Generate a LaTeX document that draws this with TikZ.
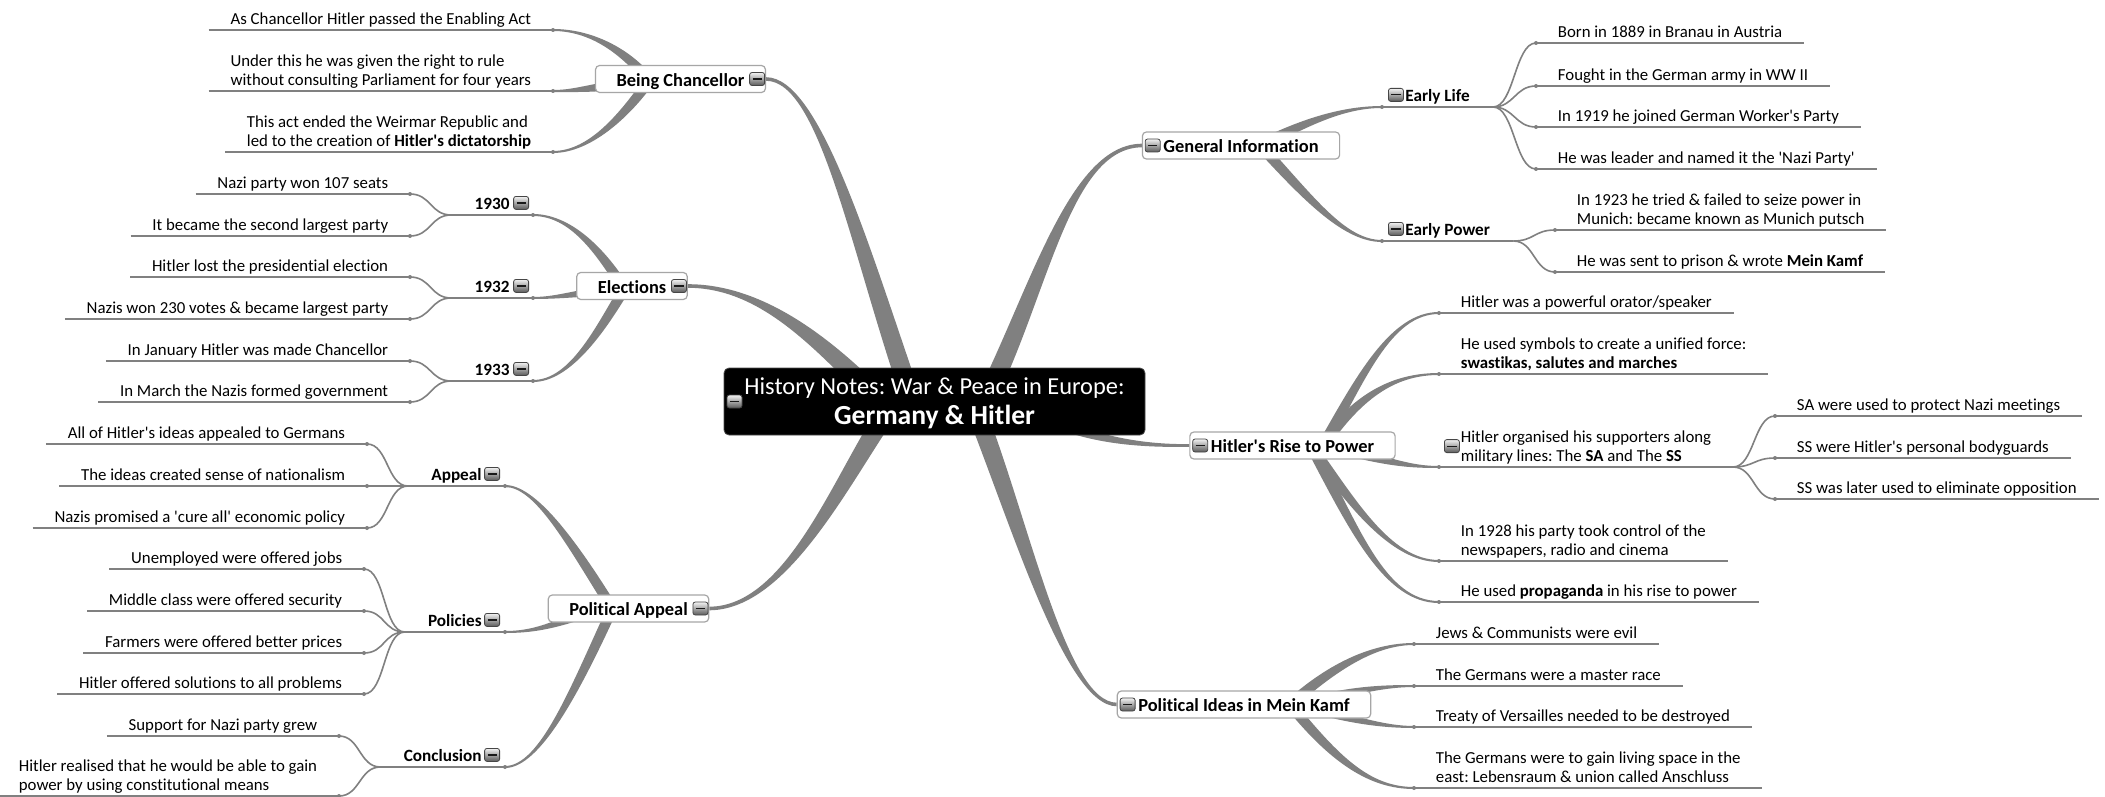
\documentclass[tikz,border=0pt]{standalone}
\usepackage{fontspec}
\setmainfont{Carlito}[Ligatures=CommonOff]
\usetikzlibrary{calc,positioning,backgrounds}
\definecolor{branchgray}{RGB}{128,128,128}
\frenchspacing
\newcommand\leaffont{\fontsize{8.4pt}{9.5pt}\selectfont}
\newcommand\subfont{\fontsize{8.6pt}{10pt}\selectfont\bfseries}
\newcommand\topicfont{\fontsize{9.2pt}{11pt}\selectfont\bfseries}
\newcommand\apo{\textquotesingle}
\newcommand\branch[6]{%
  \path (#1) coordinate (br0) (#2) coordinate (br1) (#3) coordinate (br2) (#4) coordinate (br3);
  \fill[branchgray] ($(br0)!#5!90:(br1)$) .. controls ($(br1)!#5!-90:(br0)$) and ($(br2)!#6!90:(br3)$) .. ($(br3)!#6!-90:(br2)$)
    -- ($(br3)!#6!90:(br2)$) .. controls ($(br2)!#6!-90:(br3)$) and ($(br1)!#5!90:(br0)$) .. ($(br0)!#5!-90:(br1)$) -- cycle;}
\begin{document}
\begin{tikzpicture}[x=0.5pt,y=-0.5pt]
        \tikzstyle{every node}=[font=\leaffont]
        \tikzstyle{hub}=[draw=gray!60!black, fill=black, text=white, rounded corners=2.5pt, minimum width=210.5pt, minimum height=33.5pt, align=center, text depth=0.3pt, font=\fontsize{12.2pt}{15pt}\selectfont]
        \tikzstyle{topic}=[draw=gray!70, line width=0.6pt, fill=white, rounded corners=2pt, minimum height=13.5pt, inner xsep=10.5pt, inner ysep=0pt, text height=7.8pt, text depth=0.4pt, font=\topicfont]
        \tikzstyle{subtopic}=[inner xsep=11.5pt, inner ysep=2.6pt, text depth=0pt, font=\subfont]
        \tikzstyle{leaf}=[inner xsep=10.75pt, inner ysep=2.6pt, text depth=0pt, align=left]
        \tikzstyle{fold}=[draw=gray!55!black, top color=gray!10, bottom color=gray!70!black, rounded corners=1.2pt, minimum width=7.5pt, minimum height=6.5pt, inner sep=0pt, path picture={\draw[gray!20!black, line width=0.6pt] ([xshift=-2.3pt]path picture bounding box.center) -- ([xshift=2.3pt]path picture bounding box.center);}]
        \tikzstyle{twig}=[draw=branchgray, line width=0.8pt]
        \tikzstyle{uline}=[draw=branchgray, line width=1pt]
        \useasboundingbox (0,0) rectangle (2105,797);
        \node[hub] (hub) at (934.5,401.5) {History Notes: War \& Peace in Europe:\\{\fontsize{13.8pt}{15pt}\selectfont\bfseries Germany \& Hitler}};
        \node[fold, right=1.5pt of hub.west] (f0) {};
        \node[topic] (bc) at (680.5,79) {Being Chancellor};
        \node[topic] (el) at (632,286) {Elections};
        \node[topic] (pa) at (628.5,608.5) {Political Appeal};
        \node[topic] (gi) at (1241,145.5) {General Information};
        \node[topic] (hr) at (1292.5,445.5) {Hitler\apo s Rise to Power};
        \node[topic] (pi) at (1244,704.5) {Political Ideas in Mein Kamf};
        \node[fold, left=0.5pt of bc.east] (fbc) {};
        \node[fold, left=0.5pt of el.east] (fel) {};
        \node[fold, left=0.5pt of pa.east] (fpa) {};
        \node[fold, right=1.5pt of gi.west] (fgi) {};
        \node[fold, right=1.5pt of hr.west] (fhr) {};
        \node[fold, right=1.5pt of pi.west] (fpi) {};
        \node[subtopic, anchor=south east] (y30) at (533,215) {1930};
        \node[subtopic, anchor=south east] (y32) at (533,298) {1932};
        \node[subtopic, anchor=south east] (y33) at (533,381) {1933};
        \node[subtopic, anchor=south east] (appeal) at (505,486) {Appeal};
        \node[subtopic, anchor=south east] (policies) at (505,632) {Policies};
        \node[subtopic, anchor=south east] (concl) at (505,767) {Conclusion};
        \node[subtopic, anchor=south west] (early) at (1382,107) {Early Life};
        \node[subtopic, anchor=south west] (epower) at (1382,241) {Early Power};
        \node[fold, above left=2.6pt and 2pt of y30.south east] (fy30) {};
        \node[fold, above left=2.6pt and 2pt of y32.south east] (fy32) {};
        \node[fold, above left=2.6pt and 2pt of y33.south east] (fy33) {};
        \node[fold, above left=2.6pt and 2.5pt of appeal.south east] (fappeal) {};
        \node[fold, above left=2.6pt and 2.5pt of policies.south east] (fpolicies) {};
        \node[fold, above left=2.6pt and 2.5pt of concl.south east] (fconcl) {};
        \node[fold, above right=2.6pt and 3pt of early.south west] (fearly) {};
        \node[fold, above right=2.6pt and 3pt of epower.south west] (fepower) {};
        \node[leaf, anchor=south east] (c1) at (553,30) {As Chancellor Hitler passed the Enabling Act};
        \node[leaf, anchor=south east] (c2) at (553,91) {Under this he was given the right to rule\\without consulting Parliament for four years};
        \node[leaf, anchor=south east] (c3) at (553,152) {This act ended the Weirmar Republic and\\led to the creation of \textbf{Hitler\apo s dictatorship}};
        \node[leaf, anchor=south east] (b1) at (410,194) {Nazi party won 107 seats};
        \node[leaf, anchor=south east] (b2) at (410,236) {It became the second largest party};
        \node[leaf, anchor=south east] (b3) at (410,277) {Hitler lost the presidential election};
        \node[leaf, anchor=south east] (b4) at (410,319) {Nazis won 230 votes \& became largest party};
        \node[leaf, anchor=south east] (b5) at (410,361) {In January Hitler was made Chancellor};
        \node[leaf, anchor=south east] (b6) at (410,402) {In March the Nazis formed government};
        \node[leaf, anchor=south east] (a1) at (367,444) {All of Hitler\apo s ideas appealed to Germans};
        \node[leaf, anchor=south east] (a2) at (367,486) {The ideas created sense of nationalism};
        \node[leaf, anchor=south east] (a3) at (367,528) {Nazis promised a \apo cure all\apo{} economic policy};
        \node[leaf, anchor=south east] (p1) at (364,569) {Unemployed were offered jobs};
        \node[leaf, anchor=south east] (p2) at (364,611) {Middle class were offered security};
        \node[leaf, anchor=south east] (p3) at (364,653) {Farmers were offered better prices};
        \node[leaf, anchor=south east] (p4) at (364,694) {Hitler offered solutions to all problems};
        \node[leaf, anchor=south east] (n1) at (339,736) {Support for Nazi party grew};
        \node[leaf, anchor=south east] (n2) at (339,796) {Hitler realised that he would be able to gain\\power by using constitutional means};
        \node[leaf, anchor=south west] (e1) at (1536,43) {Born in 1889 in Branau in Austria};
        \node[leaf, anchor=south west] (e2) at (1536,86) {Fought in the German army in WW II};
        \node[leaf, anchor=south west] (e3) at (1536,127) {In 1919 he joined German Worker\apo s Party};
        \node[leaf, anchor=south west] (e4) at (1536,169) {He was leader and named it the \apo Nazi Party\apo};
        \node[leaf, anchor=south west] (w1) at (1555,230) {In 1923 he tried \& failed to seize power in\\Munich: became known as Munich putsch};
        \node[leaf, anchor=south west] (w2) at (1555,272) {He was sent to prison \& wrote \textbf{Mein Kamf}};
        \node[leaf, anchor=south west] (r1) at (1439,313) {Hitler was a powerful orator/speaker};
        \node[leaf, anchor=south west] (r2) at (1439,374) {He used symbols to create a unified force:\\\textbf{swastikas, salutes and marches}};
        \node[leaf, anchor=south west] (r3) at (1439,467) {Hitler organised his supporters along\\military lines: The \textbf{SA} and The \textbf{SS}};
        \node[leaf, anchor=south west] (r4) at (1439,561) {In 1928 his party took control of the\\newspapers, radio and cinema};
        \node[leaf, anchor=south west] (r5) at (1439,602) {He used \textbf{propaganda} in his rise to power};
        \node[fold, above right=7pt and 2.5pt of r3.south west] (fr3) {};
        \node[leaf, anchor=south west] (s1) at (1775,416) {SA were used to protect Nazi meetings};
        \node[leaf, anchor=south west] (s2) at (1775,458) {SS were Hitler\apo s personal bodyguards};
        \node[leaf, anchor=south west] (s3) at (1775,499) {SS was later used to eliminate opposition};
        \node[leaf, anchor=south west] (k1) at (1414,644) {Jews \& Communists were evil};
        \node[leaf, anchor=south west] (k2) at (1414,686) {The Germans were a master race};
        \node[leaf, anchor=south west] (k3) at (1414,727) {Treaty of Versailles needed to be destroyed};
        \node[leaf, anchor=south west] (k4) at (1414,788) {The Germans were to gain living space in the\\east: Lebensraum \& union called Anschluss};
        \begin{scope}[on background layer]
        \fill[white] (0,0) rectangle (2105,797);
        \branch{$(hub)+(-22,0)$}{860,250}{820,79}{bc.east}{4.8pt}{0.9pt}
        \branch{$(hub)+(-54,0)$}{820,340}{760,286}{el.east}{4.8pt}{0.9pt}
        \branch{$(hub)+(-40,0)$}{845,470}{790,608}{pa.east}{4.8pt}{0.9pt}
        \branch{$(hub)+(50,0)$}{1040,290}{1070,146}{gi.west}{4.8pt}{0.9pt}
        \branch{$(hub)+(105,14)$}{1090,440}{1140,446}{hr.west}{2.6pt}{0.7pt}
        \branch{$(hub)+(38,0)$}{1020,520}{1065,704}{pi.west}{4.8pt}{0.9pt}
        \branch{$(bc)+(-30,3)$}{625,50}{590,30}{c1.south east}{2.6pt}{0.5pt}
        \branch{$(bc)+(-60,6)$}{590,88}{575,91}{c2.south east}{2.3pt}{0.5pt}
        \branch{$(bc)+(-30,0)$}{625,115}{590,152}{c3.south east}{2.6pt}{0.5pt}
        \branch{$(el)+(-7,4)$}{600,250}{570,215}{y30.south east}{2.6pt}{0.5pt}
        \branch{$(el)+(-12,4)$}{580,292}{560,298}{y32.south east}{2.3pt}{0.5pt}
        \branch{$(el)+(-7,2)$}{600,330}{570,381}{y33.south east}{2.6pt}{0.5pt}
        \branch{$(pa)+(-16,0)$}{570,540}{535,486}{appeal.south east}{2.6pt}{0.5pt}
        \branch{$(pa)+(-28,0)$}{560,622}{540,632}{policies.south east}{2.3pt}{0.5pt}
        \branch{$(pa)+(-16,0)$}{575,690}{540,767}{concl.south east}{2.6pt}{0.5pt}
        \branch{$(gi)+(14,2)$}{1300,125}{1340,107}{early.south west}{2.6pt}{0.5pt}
        \branch{$(gi)+(19,0)$}{1310,200}{1345,241}{epower.south west}{2.6pt}{0.5pt}
        \branch{$(hr)+(28,4)$}{1360,380}{1390,313}{r1.south west}{2.6pt}{0.5pt}
        \branch{$(hr)+(28,4)$}{1360,390}{1400,374}{r2.south west}{2.6pt}{0.5pt}
        \branch{$(hr)+(48,4)$}{1390,462}{1410,467}{r3.south west}{2.3pt}{0.5pt}
        \branch{$(hr)+(18,0)$}{1350,500}{1390,561}{r4.south west}{2.6pt}{0.5pt}
        \branch{$(hr)+(18,0)$}{1355,530}{1385,602}{r5.south west}{2.6pt}{0.5pt}
        \branch{$(pi)+(46,0)$}{1340,660}{1380,644}{k1.south west}{2.6pt}{0.5pt}
        \branch{$(pi)+(56,0)$}{1350,690}{1385,686}{k2.south west}{2.3pt}{0.5pt}
        \branch{$(pi)+(56,0)$}{1350,720}{1385,727}{k3.south west}{2.3pt}{0.5pt}
        \branch{$(pi)+(46,0)$}{1335,760}{1370,788}{k4.south west}{2.6pt}{0.5pt}
        \end{scope}
        \foreach \f/\t in {y30/b1,y30/b2,y32/b3,y32/b4,y33/b5,y33/b6,appeal/a1,appeal/a2,appeal/a3,policies/p1,policies/p2,policies/p3,policies/p4,concl/n1,concl/n2}
            \draw[twig] (\f.south west) .. controls +(-21,0) and +(21,0) .. (\t.south east);
        \foreach \f/\t in {early/e1,early/e2,early/e3,early/e4,epower/w1,epower/w2,r3/s1,r3/s2,r3/s3}
            \draw[twig] (\f.south east) .. controls +(21,0) and +(-21,0) .. (\t.south west);
        \foreach \n in {c1,c2,c3,b1,b2,b3,b4,b5,b6,a1,a2,a3,p1,p2,p3,p4,n1,n2,e1,e2,e3,e4,w1,w2,r1,r2,r3,r4,r5,s1,s2,s3,k1,k2,k3,k4,y30,y32,y33,appeal,policies,concl,early,epower}
            \draw[uline] (\n.south west) -- (\n.south east);
        \foreach \n in {c1,c2,c3,b1,b2,b3,b4,b5,b6,a1,a2,a3,p1,p2,p3,p4,n1,n2,y30,y32,y33,appeal,policies,concl}
            \fill[branchgray] (\n.south east) circle (1pt);
        \foreach \n in {e1,e2,e3,e4,w1,w2,r1,r2,r3,r4,r5,s1,s2,s3,k1,k2,k3,k4,early,epower}
            \fill[branchgray] (\n.south west) circle (1pt);
    \end{tikzpicture}
\end{document}
